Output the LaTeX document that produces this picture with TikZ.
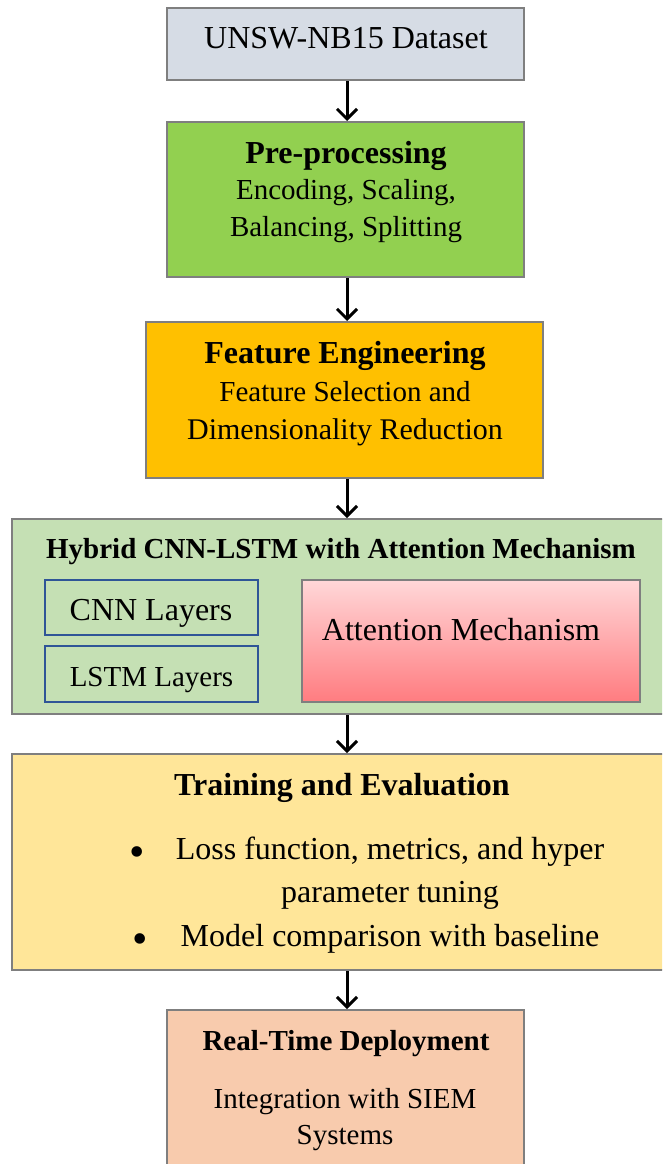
\documentclass[tikz,border=0pt]{standalone}
\usepackage{fontspec}
\setmainfont{Liberation Serif}
\usetikzlibrary{arrows.meta,calc}
\definecolor{bord}{HTML}{7F7F7F}
\definecolor{dsfill}{HTML}{D6DCE5}
\definecolor{prefill}{HTML}{92D050}
\definecolor{fefill}{HTML}{FFC000}
\definecolor{hyfill}{HTML}{C5E0B4}
\definecolor{trfill}{HTML}{FFE699}
\definecolor{rtfill}{HTML}{F8CBAD}
\definecolor{attop}{HTML}{FFD7D8}
\definecolor{atbot}{HTML}{FF7C80}
\definecolor{layblue}{HTML}{2F5597}
\tikzset{
  box/.style={draw=bord, line width=2pt, rectangle, inner sep=0pt},
  laybox/.style={draw=layblue, line width=2pt, fill=hyfill, rectangle, inner sep=0pt},
  txt/.style={inner sep=0pt, anchor=center, text height=21pt, text depth=0pt, font=\fontsize{29}{37}\selectfont},
  big/.style={txt, font=\fontsize{32}{37}\selectfont},
  ttl/.style={txt, font=\fontsize{32}{37}\selectfont\bfseries},
  ttls/.style={txt, font=\fontsize{29}{37}\selectfont\bfseries},
  bul/.style={txt, font=\fontsize{44}{37}\selectfont},
  flow/.style={line width=3pt, -{Straight Barb[length=10pt,width=20pt,line width=3pt]}}
}
\begin{document}
\begin{tikzpicture}[x=1pt,y=-1pt]
\useasboundingbox (0,0) rectangle (662,1164);
\clip (0,0) rectangle (662,1164);
% boxes
\node[box, fill=dsfill, minimum width=357pt, minimum height=72pt] (ds) at (345.5,44) {};
\node[box, fill=prefill, minimum width=357pt, minimum height=155pt] (pre) at (345.5,199.5) {};
\node[box, fill=fefill, minimum width=397pt, minimum height=156pt] (fe) at (344.5,400) {};
\node[box, fill=hyfill, minimum width=652pt, minimum height=195pt] (hy) at (338,616.5) {};
\node[laybox, minimum width=213pt, minimum height=55pt] (cnn) at (151.5,607.5) {};
\node[laybox, minimum width=213pt, minimum height=56pt] (lstm) at (151.5,674) {};
\node[box, top color=attop, bottom color=atbot, minimum width=338pt, minimum height=122pt] (att) at (471,641) {};
\node[box, fill=trfill, minimum width=652pt, minimum height=216pt] (tr) at (338,862) {};
\node[box, fill=rtfill, minimum width=357pt, minimum height=160pt] (rt) at (345.5,1090) {};
% texts
\node[big] (t1) at (346,38) {UNSW-NB15 Dataset};
\node[ttl] (t2) at (346,153) {Pre-processing};
\node[txt] (t3) at (346,189) {Encoding, Scaling,};
\node[txt] (t4) at (346,226) {Balancing, Splitting};
\node[ttl] (t5) at (345,353) {Feature Engineering};
\node[txt] (t6) at (345,391) {Feature Selection and};
\node[txt, font=\fontsize{30}{37}\selectfont] (t7) at (345,429) {Dimensionality Reduction};
\node[ttls] (t8) at (341,548) {Hybrid CNN-LSTM with Attention Mechanism};
\node[big] (t9) at (151,610) {CNN Layers};
\node[txt] (t10) at (151.5,676) {LSTM Layers};
\node[big] (t11) at (461,630) {Attention Mechanism};
\node[ttl] (t12) at (342,785) {Training and Evaluation};
\node[bul] (b1) at (137,856) {•};
\node[big] (t13) at (390,849) {Loss function, metrics, and hyper};
\node[big] (t14) at (390,892) {parameter tuning};
\node[bul] (b2) at (140,943) {•};
\node[big] (t15) at (390,936) {Model comparison with baseline};
\node[ttls] (t16) at (346,1040) {Real-Time Deployment};
\node[txt] (t17) at (345,1098) {Integration with SIEM};
\node[txt] (t18) at (345,1134) {Systems};
% arrows
\coordinate (ax) at (347,0);
\draw[flow] (ds.south -| ax) -- (pre.north -| ax);
\draw[flow] (pre.south -| ax) -- (fe.north -| ax);
\draw[flow] (fe.south -| ax) -- (hy.north -| ax);
\draw[flow] (hy.south -| ax) -- (tr.north -| ax);
\draw[flow] (tr.south -| ax) -- (rt.north -| ax);
\end{tikzpicture}
\end{document}
